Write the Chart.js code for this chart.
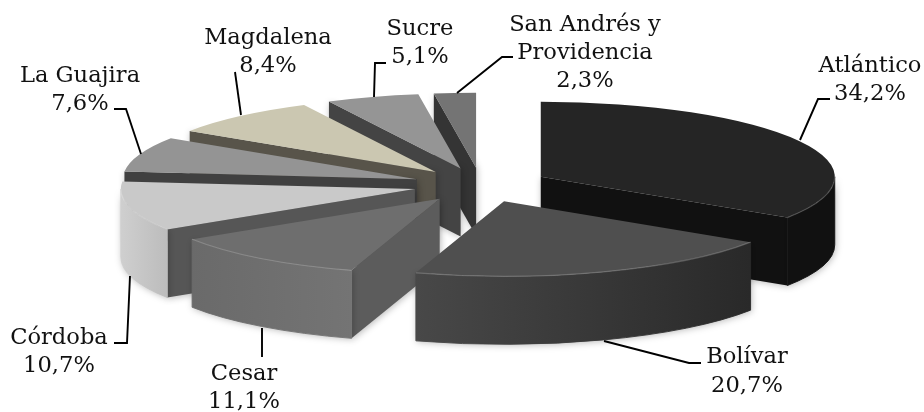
<!DOCTYPE html>
<html><head><meta charset="utf-8">
<style>html,body{margin:0;padding:0;background:#fff}canvas{display:block}</style>
<script src="https://cdn.jsdelivr.net/npm/chart.js@4/dist/chart.umd.min.js"></script>
</head><body><canvas id="c" width="924" height="412"></canvas>
<script>
const categories = ['Atlántico','Bolívar','Cesar','Córdoba','La Guajira','Magdalena','Sucre','San Andrés y Providencia'];
const values = [34.2,20.7,11.1,10.7,7.6,8.4,5.1,2.3];
const valueLabels = ['34,2%','20,7%','11,1%','10,7%','7,6%','8,4%','5,1%','2,3%'];
const topColors = ['#252525','#4f4f4f','#6e6e6e','#c9c9c9','#949494','#cbc7b1','#959595','#747474'];
const cutColors = ['#111111','#2c2c2c','#5c5c5c','#565656','#404040','#58544a','#444444','#343434'];
const rimLeft = ['#111111','#484848','#6a6a6a','#cfcfcf','#6e6e6e','#8a8776','#666666','#555555'];
const rimRight = ['#111111','#292929','#747474','#bcbcbc','#6e6e6e','#8a8776','#666666','#555555'];
const paintOrder = [7,6,5,4,3,0,2,1];
const labelLines = [['Atlántico'],['Bolívar'],['Cesar'],['Córdoba'],['La Guajira'],['Magdalena'],['Sucre'],['San Andrés y','Providencia']];
const labelAt = [[870,72,28],[747,363,29],[244,380,28],[59,344,28],[80,82,28],[268,44,28],[420,35,28],[585,31,28]];
const leaders = [
 [[800,140],[818,99],[830,99]],
 [[604,341],[689,363],[701,363]],
 [[262,328],[262,357]],
 [[130,276],[127,343],[114,343]],
 [[141,154],[126,109],[114,109]],
 [[241,115],[235,72]],
 [[374,97],[375,63],[386,63]],
 [[457,93],[502,57],[513,57]]
];
const pieCentre = [481,185], radiusX = 294, radiusY = 75, depth = 68, explode = 68;

const pie3d = {
 id:'pie3d',
 beforeDatasetsDraw(chart){
  const ctx = chart.ctx, arcs = chart.getDatasetMeta(0).data;
  const sy = radiusY/radiusX;
  paintOrder.forEach(i=>{
   const el = arcs[i], a0 = el.startAngle, a1 = el.endAngle, mid = (a0+a1)/2;
   const ox = pieCentre[0]+Math.cos(mid)*explode, oy = pieCentre[1]+Math.sin(mid)*explode*sy;
   const pt = a=>[ox+Math.cos(a)*radiusX, oy+Math.sin(a)*radiusY];
   const face = a=>{
     const p = pt(a);
     ctx.beginPath();ctx.moveTo(ox,oy);ctx.lineTo(p[0],p[1]);ctx.lineTo(p[0],p[1]+depth);ctx.lineTo(ox,oy+depth);ctx.closePath();
     ctx.fillStyle = cutColors[i];ctx.fill();
   };
   ctx.save();
   ctx.shadowColor='rgba(0,0,0,0.28)';ctx.shadowBlur=7;ctx.shadowOffsetX=1;ctx.shadowOffsetY=1;
   if(Math.cos(a0)<-1e-6) face(a0);
   if(Math.cos(a1)>1e-6) face(a1);
   const r0 = Math.max(a0,0), r1 = Math.min(a1,Math.PI);
   if(r1>r0){
     const g = ctx.createLinearGradient(pt(r1)[0],0,pt(r0)[0],0);
     g.addColorStop(0,rimLeft[i]);g.addColorStop(1,rimRight[i]);
     ctx.beginPath();
     ctx.ellipse(ox,oy,radiusX,radiusY,0,r0,r1);
     ctx.ellipse(ox,oy+depth,radiusX,radiusY,0,r1,r0,true);
     ctx.closePath();ctx.fillStyle=g;ctx.fill();
     ctx.shadowColor='transparent';
     ctx.strokeStyle=g;ctx.lineWidth=0.9;ctx.stroke();
   }
   ctx.restore();
   ctx.save();
   ctx.translate(ox,oy);
   ctx.scale(radiusX/el.outerRadius,radiusY/el.outerRadius);
   ctx.translate(-el.x,-el.y);
   el.draw(ctx);
   ctx.restore();
   if(r1>r0){
     ctx.save();
     ctx.beginPath();ctx.ellipse(ox,oy,radiusX,radiusY,0,r0,r1);
     ctx.strokeStyle='rgba(255,255,255,0.2)';ctx.lineWidth=1.2;ctx.stroke();
     ctx.restore();
   }
  });
  return false;
 },
 afterDraw(chart){
  const ctx = chart.ctx;
  ctx.save();
  ctx.strokeStyle='#000';ctx.lineWidth=1.9;
  leaders.forEach(l=>{ctx.beginPath();l.forEach((p,k)=>k?ctx.lineTo(p[0],p[1]):ctx.moveTo(p[0],p[1]));ctx.stroke();});
  ctx.fillStyle='#111';ctx.font='22.6px "DejaVu Serif"';ctx.textAlign='center';ctx.textBaseline='alphabetic';
  categories.forEach((c,i)=>{
    const [x,y,lh] = labelAt[i];
    const lines = labelLines[i].concat([valueLabels[i]]);
    lines.forEach((t,k)=>ctx.fillText(t,x,y+k*lh));
  });
  ctx.restore();
 }
};

new Chart(document.getElementById('c'),{
 type:'pie',
 data:{labels:categories,datasets:[{data:values,backgroundColor:topColors,borderWidth:0}]},
 options:{responsive:false,animation:false,events:[],layout:{padding:0},
  plugins:{legend:{display:false},tooltip:{enabled:false}}},
 plugins:[pie3d]
});
</script></body></html>
